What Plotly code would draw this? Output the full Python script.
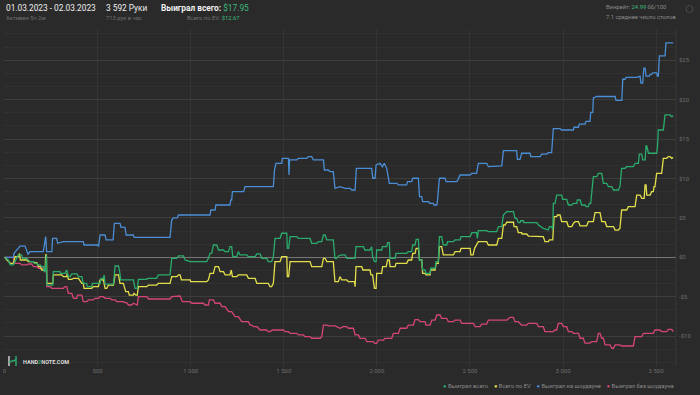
import plotly.graph_objects as go

# ---------------- data ----------------
blue_x = [0,47,51,83,110,121,126,137,208,221,226,254,258,280,285,316,423,427,502,505,513,540,545,583,590,620,626,647,653,692,696,889,898,907,928,934,1104,1108,1131,1135,1211,1215,1220,1224,1283,1287,1292,1444,1450,1458,1489,1492,1525,1528,1531,1570,1578,1623,1632,1650,1659,1713,1718,1739,1749,1766,1775,1802,1829,1856,1865,1883,1890,1972,1978,1990,1996,2017,2030,2040,2053,2067,2107,2116,2160,2165,2187,2193,2223,2229,2241,2246,2277,2286,2304,2307,2322,2326,2336,2366,2372,2429,2435,2447,2501,2510,2536,2545,2590,2599,2671,2680,2751,2755,2769,2778,2823,2827,2877,2885,2912,2921,2939,2948,2984,2993,3056,3059,3083,3088,3118,3124,3145,3149,3160,3163,3181,3280,3285,3316,3321,3333,3339,3396,3414,3418,3428,3434,3441,3446,3464,3468,3476,3482,3503,3507,3512,3518,3548,3553,3592]
blue_y = [0,0,0.5,1.43,1.43,0.71,0.4,0.71,0.71,2.62,0.71,0.71,2.41,2.41,1.78,1.98,1.98,1.56,1.56,1.35,2.83,2.83,2.2,2.2,4.31,4.31,3.81,3.81,2.83,2.83,2.53,2.53,4.73,5.0,5.0,5.37,5.37,6.0,6.0,6.64,6.64,7.27,7.27,8.33,8.33,8.54,8.96,8.96,11.08,11.93,11.93,12.56,12.56,10.44,12.35,12.35,12.56,12.56,12.77,12.77,12.35,12.35,11.08,11.08,10.87,10.87,8.75,8.96,8.75,8.75,8.54,8.54,11.29,11.29,10.03,10.03,11.71,11.93,11.5,11.93,11.29,9.39,9.39,9.18,9.18,9.6,9.6,10.03,10.03,7.69,7.69,7.06,7.06,6.85,6.85,6.64,6.64,7.27,10.03,10.03,9.6,9.6,9.8,10.44,10.44,10.65,10.65,11.93,11.93,11.5,11.59,13.53,13.53,12.43,12.43,13.2,13.2,12.77,12.77,13.1,13.1,13.28,13.28,16.32,16.32,16.15,16.15,16.5,16.5,16.9,16.9,17.24,17.24,18.4,18.4,20.23,20.4,20.4,19.9,19.9,22.59,22.59,22.84,22.84,23.0,22.1,22.1,24.0,24.0,23.0,23.0,23.2,23.2,23.4,23.4,23.0,23.0,25.55,25.55,27.2,27.2]

green_x = [0,20,30,47,56,74,92,97,119,128,137,155,160,173,180,191,200,209,213,218,221,225,227,259,262,298,300,325,334,343,352,361,388,397,415,423,441,445,468,472,513,518,531,535,540,585,594,612,617,624,692,701,713,719,764,770,817,826,889,898,925,934,961,970,997,1086,1095,1104,1113,1122,1140,1149,1176,1185,1203,1211,1220,1226,1247,1256,1265,1301,1310,1346,1355,1373,1382,1408,1417,1435,1444,1453,1480,1489,1516,1519,1526,1534,1570,1578,1641,1650,1677,1686,1704,1713,1722,1731,1766,1775,1784,1793,1811,1829,1838,1883,1888,1928,1935,1963,1972,1977,1987,1996,1999,2026,2030,2053,2058,2067,2071,2098,2103,2160,2169,2187,2193,2205,2211,2223,2229,2241,2246,2259,2264,2286,2289,2313,2318,2330,2336,2348,2357,2375,2380,2411,2420,2447,2452,2501,2510,2536,2540,2545,2590,2599,2644,2653,2671,2680,2698,2734,2742,2751,2760,2769,2773,2787,2790,2859,2868,2894,2921,2927,2939,2945,2948,2957,2966,2993,2998,3020,3029,3047,3056,3074,3077,3092,3100,3118,3124,3136,3142,3149,3154,3163,3181,3190,3208,3217,3235,3244,3262,3271,3297,3306,3315,3333,3342,3378,3387,3405,3410,3423,3428,3441,3446,3450,3459,3503,3507,3512,3539,3548,3575,3584,3592]
green_y = [0,-0.34,-0.97,-0.97,-0.55,0.3,0.3,-0.13,-0.13,-0.34,-0.55,-0.55,-0.76,-0.76,-0.97,-0.97,-1.18,-1.18,-1.82,-1.82,0.3,0.3,-3.52,-3.52,-1.82,-1.82,-2.03,-2.03,-1.61,-2.45,-2.45,-2.11,-2.11,-2.45,-2.45,-3.3,-3.3,-3.72,-3.72,-3.3,-3.3,-2.66,-2.66,-2.24,-3.39,-3.39,-1.1,-1.1,-1.61,-2.87,-2.87,-3.93,-3.93,-2.79,-2.79,-2.66,-2.66,-2.24,-2.24,-0.13,-0.13,0.17,0.17,-0.34,-0.55,-0.55,-0.13,0.51,0.51,1.56,1.56,0.93,0.93,0.72,0.72,1.35,1.35,0.09,0.09,0.72,0.3,0.3,0.09,0.09,0.43,0.43,-0.13,-0.13,-0.55,-0.55,0.09,2.41,2.41,3.05,3.05,1.14,1.14,2.62,2.62,2.41,2.41,1.78,1.78,1.98,1.98,2.83,2.83,2.2,2.2,-0.13,-0.13,0.17,0.3,0.3,-0.13,-0.13,1.35,1.35,0.93,0.93,1.35,0.09,-0.55,-0.55,0.93,0.93,1.35,1.35,1.86,1.86,-0.13,-0.13,0.51,0.51,0.72,0.72,1.56,1.56,2.28,2.28,-0.34,-0.34,-1.6,-1.6,-2.03,-2.03,-1.39,-1.39,-0.55,-0.55,2.62,2.62,1.56,1.56,1.98,1.98,2.2,2.2,2.62,2.62,3.13,3.13,2.41,3.38,3.38,3.26,3.26,3.89,3.89,5.37,5.8,5.8,4.95,4.95,4.39,4.39,4.64,4.64,4.39,4.39,4.1,3.68,3.46,3.9,3.9,3.46,6.85,6.85,7.9,7.9,7.36,7.36,6.64,6.64,6.85,6.85,7.27,7.27,6.64,6.64,6.43,6.43,6.85,6.85,8.1,10.23,10.23,10.65,10.65,9.39,9.39,8.96,8.96,8.54,8.54,8.96,11.29,11.29,11.5,11.5,11.93,11.93,13.1,13.1,12.35,12.35,14.12,14.12,13.2,13.2,13.96,16.15,16.15,18.06,18.06,17.85,17.95]

yellow_x = [0,20,30,47,56,74,80,85,119,128,155,160,173,182,191,200,218,221,225,227,259,262,307,316,334,336,343,361,370,397,415,423,427,468,477,504,513,531,540,549,558,585,594,612,620,638,651,665,670,692,695,705,713,719,764,773,817,826,889,898,925,934,943,950,997,1000,1086,1095,1104,1122,1131,1149,1158,1176,1185,1211,1218,1224,1247,1256,1301,1310,1346,1355,1417,1426,1435,1444,1453,1480,1489,1516,1519,1526,1534,1641,1650,1704,1713,1722,1731,1766,1775,1793,1802,1811,1838,1847,1880,1883,1888,1919,1925,1963,1968,1977,1987,1996,1999,2026,2031,2050,2058,2067,2071,2098,2103,2160,2169,2187,2193,2205,2211,2223,2229,2241,2246,2259,2264,2286,2289,2313,2318,2330,2336,2348,2357,2411,2420,2447,2452,2501,2505,2517,2525,2545,2590,2599,2644,2653,2671,2680,2689,2698,2734,2737,2751,2760,2778,2780,2805,2814,2832,2835,2894,2903,2921,2927,2945,2952,2966,2970,2984,2993,3020,3029,3047,3056,3065,3083,3092,3127,3136,3163,3172,3199,3208,3226,3235,3271,3280,3297,3306,3315,3342,3351,3387,3396,3414,3423,3436,3441,3446,3450,3468,3476,3485,3489,3494,3503,3530,3539,3557,3566,3575,3584,3592]
yellow_y = [0,-0.55,-0.76,-0.76,0.09,0.09,0.5,-0.34,-0.34,-0.55,-0.55,-0.68,-0.68,-1.18,-1.18,-1.61,-1.61,0.3,0.3,-3.3,-3.3,-2.24,-2.24,-2.45,-2.45,-2.03,-2.79,-2.79,-2.66,-2.66,-3.3,-3.3,-3.93,-3.93,-3.72,-3.72,-2.87,-2.87,-3.93,-3.93,-3.52,-3.52,-2.24,-2.24,-3.3,-3.3,-4.36,-4.36,-4.79,-4.79,-4.57,-4.79,-4.79,-3.72,-3.72,-3.52,-3.52,-3.3,-3.3,-2.45,-2.45,-2.24,-2.24,-2.87,-2.87,-3.09,-3.09,-2.87,-2.03,-2.03,-1.18,-1.18,-1.82,-1.82,-2.24,-2.24,-1.61,-2.45,-2.45,-2.24,-2.24,-2.66,-2.66,-3.3,-3.3,-3.72,-3.72,-3.3,-0.55,-0.55,0.09,0.09,-2.45,-2.45,-0.55,-0.55,-1.18,-1.18,-0.13,-0.13,-0.55,-0.55,-3.09,-3.09,-2.45,-2.87,-2.87,-3.09,-3.09,-3.72,-1.18,-1.18,-1.61,-1.61,-2.24,-2.24,-3.93,-3.93,-2.03,-2.03,-1.18,-1.18,-0.34,-0.34,-1.18,-1.18,-0.76,-0.76,-0.34,-0.34,0.51,0.51,1.14,1.14,-0.34,-0.34,-2.03,-2.03,-2.24,-2.24,-1.61,-1.61,-0.76,-0.76,1.35,1.35,0.3,0.3,0.72,0.72,1.14,1.14,0.3,0.3,1.14,1.98,1.98,1.56,1.56,2.41,2.41,4.1,4.1,4.45,4.45,3.9,3.9,3.12,3.12,2.96,2.96,2.7,2.7,2.62,2.62,1.98,1.98,2.2,2.2,5.15,5.15,5.37,5.37,4.52,4.52,3.9,3.9,4.3,4.52,4.52,3.98,3.98,4.52,4.52,5.66,5.66,4.52,4.52,3.9,3.9,3.46,3.46,3.68,6.0,6.0,6.43,6.43,7.9,7.9,7.48,7.48,9.18,9.18,7.9,7.9,8.33,8.33,8.96,8.96,10.65,10.65,12.56,12.56,12.77,12.77,12.56,12.67]

pink_x = [0,47,56,83,92,119,128,146,155,173,182,209,218,225,227,245,254,316,325,334,343,361,370,388,392,415,423,441,450,477,486,504,513,531,540,567,576,594,603,638,647,656,665,683,692,713,719,764,773,889,898,943,955,997,1006,1068,1077,1095,1100,1122,1131,1158,1167,1185,1203,1220,1238,1256,1274,1310,1319,1328,1337,1355,1364,1373,1408,1417,1426,1440,1498,1507,1525,1534,1570,1578,1605,1614,1641,1650,1695,1704,1713,1731,1740,1775,1784,1802,1820,1838,1847,1874,1883,1901,1910,1937,1946,1981,1990,1999,2008,2035,2044,2080,2089,2116,2125,2160,2169,2196,2205,2223,2232,2259,2264,2286,2295,2313,2322,2339,2348,2375,2384,2411,2420,2447,2456,2519,2528,2554,2563,2590,2599,2698,2715,2733,2742,2760,2778,2805,2814,2859,2868,2894,2903,2948,2957,2966,2975,2993,3002,3020,3029,3047,3056,3083,3092,3109,3118,3145,3154,3181,3190,3199,3208,3217,3226,3253,3262,3271,3280,3306,3315,3378,3387,3423,3432,3485,3494,3521,3530,3557,3566,3584,3592]
pink_y = [0,0,-0.76,-0.76,-0.97,-0.97,-0.85,-0.85,-1.18,-1.18,-1.39,-1.39,-1.82,-1.82,-3.72,-3.72,-3.93,-3.93,-3.72,-3.72,-4.57,-4.57,-5.2,-5.2,-4.79,-4.79,-5.63,-5.63,-5.41,-5.41,-5.2,-5.2,-5.0,-5.0,-5.2,-5.2,-5.41,-5.41,-5.63,-5.63,-5.75,-5.75,-6.05,-6.05,-5.83,-6.05,-5.0,-5.0,-5.29,-5.29,-5.0,-4.91,-5.63,-5.63,-5.83,-5.83,-6.05,-6.05,-5.41,-5.41,-5.83,-5.83,-6.26,-6.26,-6.9,-6.9,-7.53,-7.53,-8.17,-8.17,-8.6,-8.6,-8.8,-8.8,-9.0,-9.22,-9.22,-9.43,-9.43,-9.22,-9.22,-9.43,-9.43,-9.64,-9.64,-9.85,-9.85,-10.06,-10.06,-10.27,-10.27,-10.06,-8.6,-8.6,-8.7,-8.7,-8.8,-9.0,-8.8,-8.8,-9.0,-9.0,-9.85,-9.85,-10.28,-10.28,-10.71,-10.71,-10.92,-10.92,-10.5,-10.5,-10.28,-10.28,-9.65,-9.65,-9.0,-9.0,-8.6,-8.6,-7.9,-7.9,-8.17,-8.17,-8.6,-8.6,-7.96,-7.96,-7.32,-7.32,-7.74,-7.74,-8.17,-8.17,-7.96,-7.96,-8.38,-8.38,-8.8,-8.8,-8.47,-8.47,-7.96,-7.96,-7.62,-7.62,-8.17,-8.17,-8.6,-8.6,-8.38,-8.38,-8.8,-8.8,-9.43,-9.43,-9.22,-9.22,-8.38,-8.38,-8.8,-8.8,-9.43,-9.43,-9.64,-9.64,-10.27,-10.27,-10.9,-10.9,-10.69,-10.69,-9.64,-9.64,-10.27,-10.27,-11.12,-11.12,-11.54,-11.54,-11.12,-11.12,-11.25,-11.25,-10.06,-10.06,-9.64,-9.64,-9.22,-9.22,-9.43,-9.43,-9.14,-9.14,-9.43]

series_names = ["Выиграл всего", "Всего по EV", "Выиграл на шоудауне", "Выиграл без шоудауна"]
x_tick_vals = [0, 500, 1000, 1500, 2000, 2500, 3000, 3500]
x_tick_text = ["0", "500", "1 000", "1 500", "2 000", "2 500", "3 000", "3 500"]
y_tick_vals = [-10, -5, 0, 5, 10, 15, 20, 25]
y_tick_text = ["-$10", "-$5", "$0", "$5", "$10", "$15", "$20", "$25"]

# ---------------- style ----------------
BG = "#2a2a2a"
GREEN = "#2bab6c"
YELLOW = "#e3df4b"
BLUE = "#4a8ed6"
PINK = "#d6457a"
FONT = "Roboto"

L, R, T, B = 4, 24, 30, 29
W, H = 700, 395
PW, PH = W - L - R, H - T - B

def px(x):
    return (x - L) / PW

def py(y):
    return (H - B - y) / PH

fig = go.Figure()
for xs, ys, col, name in [(pink_x, pink_y, PINK, series_names[3]),
                          (blue_x, blue_y, BLUE, series_names[2]),
                          (yellow_x, yellow_y, YELLOW, series_names[1]),
                          (green_x, green_y, GREEN, series_names[0])]:
    fig.add_trace(go.Scatter(x=xs, y=ys, mode="lines", name=name,
                             line=dict(color=col, width=1.3),
                             showlegend=False, hoverinfo="skip"))

fig.update_layout(
    width=W, height=H,
    margin=dict(l=L, r=R, t=T, b=B, pad=0),
    paper_bgcolor=BG, plot_bgcolor=BG,
    font=dict(family=FONT, color="#8a8a8a", size=7),
    showlegend=False,
)
fig.update_xaxes(range=[-3, 3607], tickvals=x_tick_vals, ticktext=x_tick_text,
                 showgrid=True, gridcolor="#353535", gridwidth=1,
                 zeroline=False, showline=False, ticks="",
                 tickfont=dict(size=6, color="#6e6e6e"), fixedrange=True)
fig.update_yaxes(range=[-13.79, 28.84], side="right", tickvals=y_tick_vals,
                 ticktext=y_tick_text, showgrid=True, gridcolor="#3d3d3d",
                 gridwidth=1, zeroline=True, zerolinecolor="#777777",
                 zerolinewidth=1, showline=False, ticks="",
                 ticklabelstandoff=2,
                 tickfont=dict(size=6, color="#6e6e6e"),
                 minor=dict(dtick=5/3, showgrid=True, gridcolor="#313131", gridwidth=1),
                 fixedrange=True)

# right border line
fig.add_shape(type="line", xref="paper", yref="paper", x0=1, x1=1, y0=0, y1=1,
              line=dict(color="#383838", width=1))

def ann(x, y, text, size, color="#ffffff", anchor="left"):
    fig.add_annotation(xref="paper", yref="paper", x=px(x), y=py(y), text=text,
                       showarrow=False, xanchor=anchor, yanchor="middle",
                       font=dict(size=size, color=color, family=FONT))

ann(4, 8, "01.03.2023 - 02.03.2023", 8.3, "#f0f0f0")
ann(4, 17.5, "Активен 5ч 2м", 5.8, "#707070")
ann(104, 8, "3 592 Руки", 8.3, "#f0f0f0")
ann(104, 17.5, "713 рук в час", 5.8, "#707070")
ann(159, 8, "<b>Выиграл всего:</b> <span style='color:#3dbb7c'>$17.95</span>", 8.3, "#f0f0f0")
ann(185, 17.5, "Всего по EV: <span style='color:#3dbb7c'>$12.67</span>", 5.8, "#707070")
ann(604, 7, "Винрейт: <span style='color:#3dbb7c'>24.99</span> бб/100", 5.8, "#8a8a8a")
ann(604, 16.5, "7.1 среднее число столов", 5.8, "#8a8a8a")

# gear icon (faint)
fig.add_shape(type="circle", xref="paper", yref="paper",
              x0=px(686), x1=px(693), y0=py(12.5), y1=py(5.5),
              line=dict(color="#4a4a4a", width=1))

# logo
fig.add_shape(type="line", xref="paper", yref="paper", x0=px(9), x1=px(9),
              y0=py(366), y1=py(356), line=dict(color="#cfcfcf", width=1.5))
fig.add_shape(type="line", xref="paper", yref="paper", x0=px(16), x1=px(16),
              y0=py(366), y1=py(356), line=dict(color="#2bab6c", width=1.5))
fig.add_shape(type="line", xref="paper", yref="paper", x0=px(9), x1=px(16),
              y0=py(362), y1=py(360), line=dict(color="#2bab6c", width=1.5))
ann(21, 361.5, "<b>HAND<span style='color:#2bab6c'>2</span>NOTE.COM</b>", 5.5, "#dcdcdc")

# legend (bottom right)
leg = ("<span style='color:%s'>●</span> %s    <span style='color:%s'>●</span> %s    "
       "<span style='color:%s'>●</span> %s    <span style='color:%s'>●</span> %s") % (
    GREEN, series_names[0], YELLOW, series_names[1], BLUE, series_names[2], PINK, series_names[3])
ann(676, 386, leg, 5.8, "#8a8a8a", anchor="right")

fig.write_html("out.html", config={"displayModeBar": False},
               post_script="document.body.style.margin='0';document.body.style.background='%s';" % BG)
